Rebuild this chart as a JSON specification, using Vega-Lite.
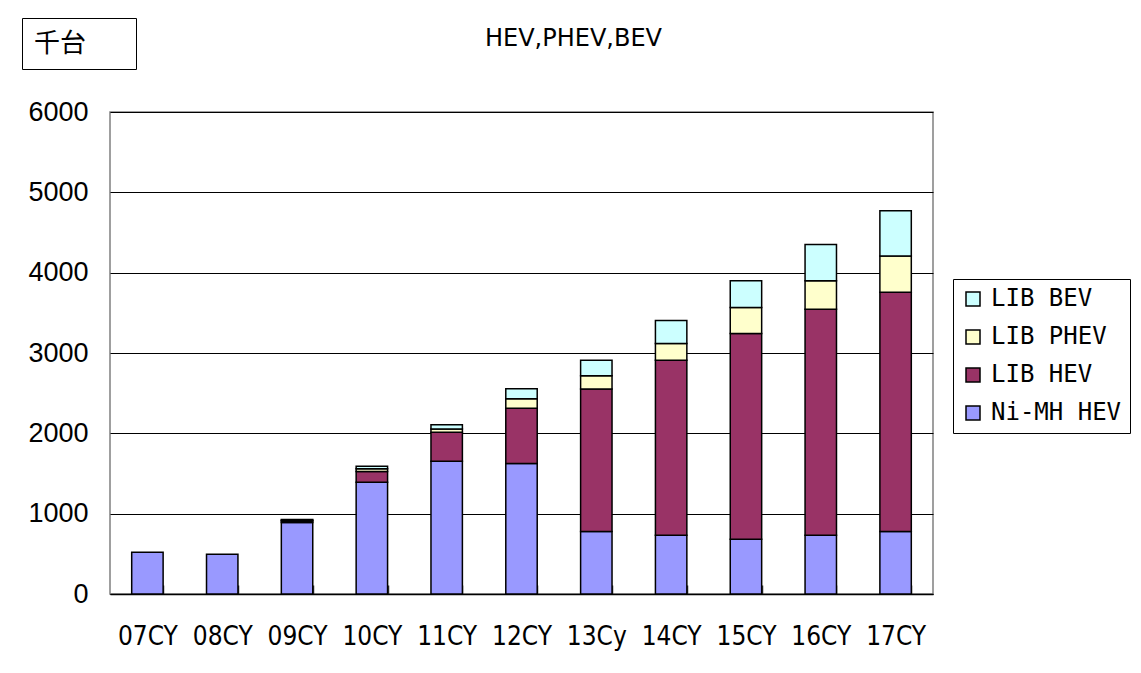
{
  "$schema": "https://vega.github.io/schema/vega-lite/v6.json",
  "width": 823,
  "height": 482,
  "autosize": {"type": "none"},
  "padding": {"left": 110, "top": 112, "right": 208, "bottom": 79},
  "background": "white",
  "title": {
    "text": "HEV,PHEV,BEV",
    "fontSize": 24,
    "fontWeight": "normal",
    "font": "DejaVu Sans",
    "color": "black",
    "anchor": "middle",
    "frame": "group",
    "baseline": "alphabetic",
    "dx": 52,
    "offset": 0,
    "dy": 52
  },
  "config": {
    "view": {"fill": "#C0C0C0", "stroke": "#808080", "strokeWidth": 1.5}
  },
  "layer": [
    {
      "data": {
        "values": [
          {"year": "07CY", "series": "Ni-MH HEV", "k": 1, "value": 520},
          {"year": "08CY", "series": "Ni-MH HEV", "k": 1, "value": 495},
          {"year": "09CY", "series": "Ni-MH HEV", "k": 1, "value": 889},
          {"year": "09CY", "series": "LIB HEV", "k": 2, "value": 20},
          {"year": "09CY", "series": "LIB PHEV", "k": 3, "value": 8},
          {"year": "09CY", "series": "LIB BEV", "k": 4, "value": 9},
          {"year": "10CY", "series": "Ni-MH HEV", "k": 1, "value": 1391},
          {"year": "10CY", "series": "LIB HEV", "k": 2, "value": 134},
          {"year": "10CY", "series": "LIB PHEV", "k": 3, "value": 33},
          {"year": "10CY", "series": "LIB BEV", "k": 4, "value": 33},
          {"year": "11CY", "series": "Ni-MH HEV", "k": 1, "value": 1653},
          {"year": "11CY", "series": "LIB HEV", "k": 2, "value": 362},
          {"year": "11CY", "series": "LIB PHEV", "k": 3, "value": 40},
          {"year": "11CY", "series": "LIB BEV", "k": 4, "value": 52},
          {"year": "12CY", "series": "Ni-MH HEV", "k": 1, "value": 1625},
          {"year": "12CY", "series": "LIB HEV", "k": 2, "value": 686},
          {"year": "12CY", "series": "LIB PHEV", "k": 3, "value": 121},
          {"year": "12CY", "series": "LIB BEV", "k": 4, "value": 124},
          {"year": "13Cy", "series": "Ni-MH HEV", "k": 1, "value": 777},
          {"year": "13Cy", "series": "LIB HEV", "k": 2, "value": 1774},
          {"year": "13Cy", "series": "LIB PHEV", "k": 3, "value": 167},
          {"year": "13Cy", "series": "LIB BEV", "k": 4, "value": 191},
          {"year": "14CY", "series": "Ni-MH HEV", "k": 1, "value": 731},
          {"year": "14CY", "series": "LIB HEV", "k": 2, "value": 2178},
          {"year": "14CY", "series": "LIB PHEV", "k": 3, "value": 208},
          {"year": "14CY", "series": "LIB BEV", "k": 4, "value": 287},
          {"year": "15CY", "series": "Ni-MH HEV", "k": 1, "value": 681},
          {"year": "15CY", "series": "LIB HEV", "k": 2, "value": 2561},
          {"year": "15CY", "series": "LIB PHEV", "k": 3, "value": 324},
          {"year": "15CY", "series": "LIB BEV", "k": 4, "value": 332},
          {"year": "16CY", "series": "Ni-MH HEV", "k": 1, "value": 731},
          {"year": "16CY", "series": "LIB HEV", "k": 2, "value": 2814},
          {"year": "16CY", "series": "LIB PHEV", "k": 3, "value": 353},
          {"year": "16CY", "series": "LIB BEV", "k": 4, "value": 454},
          {"year": "17CY", "series": "Ni-MH HEV", "k": 1, "value": 777},
          {"year": "17CY", "series": "LIB HEV", "k": 2, "value": 2980},
          {"year": "17CY", "series": "LIB PHEV", "k": 3, "value": 449},
          {"year": "17CY", "series": "LIB BEV", "k": 4, "value": 565}
        ]
      },
      "mark": {"type": "bar", "stroke": "black", "strokeWidth": 1.5},
      "encoding": {
        "x": {
          "field": "year",
          "type": "nominal",
          "sort": null,
          "scale": {"paddingInner": 0.58, "paddingOuter": 0.29},
          "axis": {
            "title": null,
            "labelAngle": 0,
            "labelFont": "DejaVu Sans Condensed",
            "labelFontSize": 26,
            "labelColor": "black",
            "labelPadding": 38,
            "domainColor": "black",
            "domainWidth": 1.5,
            "ticks": true,
            "tickBand": "extent",
            "tickSize": -9,
            "tickColor": "#333333",
            "tickWidth": 1.5,
            "grid": false
          }
        },
        "y": {
          "field": "value",
          "type": "quantitative",
          "stack": "zero",
          "scale": {"domain": [0, 6000], "nice": false},
          "axis": {
            "title": null,
            "values": [0, 1000, 2000, 3000, 4000, 5000, 6000],
            "format": "d",
            "labelFont": "Liberation Sans",
            "labelFontSize": 27,
            "labelColor": "black",
            "labelPadding": 22,
            "ticks": false,
            "domain": false,
            "grid": true,
            "gridColor": "black",
            "gridWidth": 1
          }
        },
        "order": {"field": "k", "type": "quantitative", "sort": "ascending"},
        "color": {
          "field": "series",
          "type": "nominal",
          "scale": {
            "domain": ["LIB BEV", "LIB PHEV", "LIB HEV", "Ni-MH HEV"],
            "range": ["#CCFFFF", "#FFFFCC", "#993366", "#9999FF"]
          },
          "legend": {
            "title": null,
            "orient": "none",
            "legendX": 843,
            "legendY": 167,
            "padding": 8,
            "fillColor": "white",
            "strokeColor": "black",
            "symbolType": "square",
            "symbolSize": 196,
            "symbolStrokeColor": "black",
            "symbolStrokeWidth": 1.5,
            "symbolOpacity": 1,
            "labelFont": "DejaVu Sans Mono",
            "labelFontSize": 24,
            "labelColor": "black",
            "labelOffset": 6,
            "rowPadding": 14,
            "labelLimit": 300
          }
        }
      }
    },
    {
      "data": {"values": [{"unit": "千台"}]},
      "mark": {"type": "point", "opacity": 0},
      "encoding": {
        "shape": {
          "field": "unit",
          "type": "nominal",
          "legend": {
            "title": "千台",
            "titleOrient": "left",
            "titleFont": "Noto Sans CJK JP",
            "titleFontSize": 26,
            "titleFontWeight": "normal",
            "titleColor": "black",
            "titleBaseline": "top",
            "titlePadding": 34,
            "orient": "none",
            "legendX": -88,
            "legendY": -94,
            "padding": 12,
            "fillColor": "white",
            "strokeColor": "black",
            "symbolSize": 1,
            "symbolOpacity": 0,
            "symbolStrokeWidth": 0,
            "labelFontSize": 1,
            "labelOpacity": 0,
            "labelOffset": 0
          }
        }
      }
    }
  ]
}
